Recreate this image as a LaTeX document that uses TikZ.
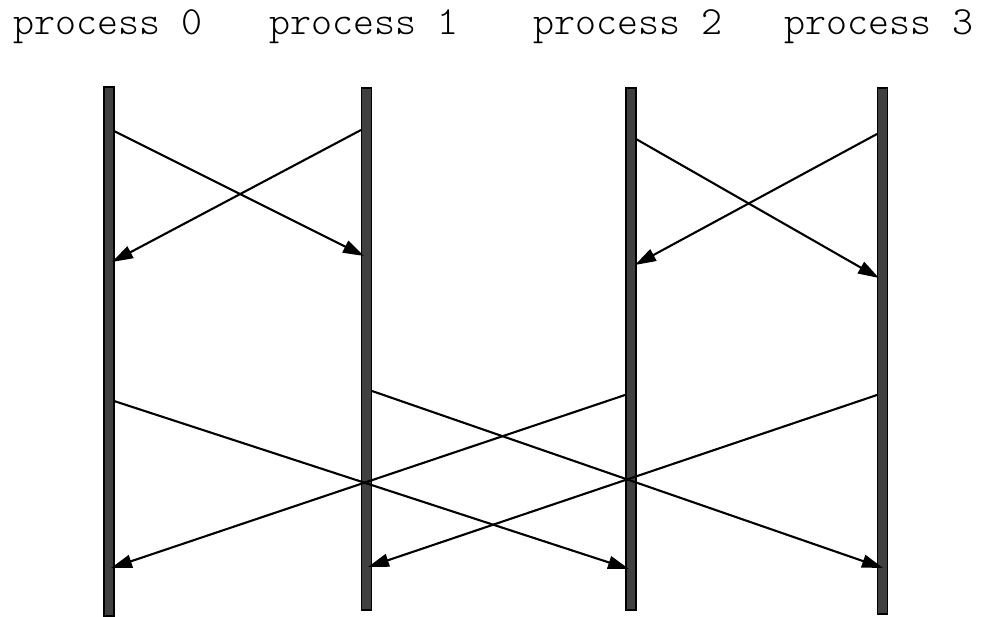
\documentclass[tikz,border=0pt]{standalone}
\usepackage{fontspec}
\newfontfamily\labelfont{Latin Modern Mono Light}
\usetikzlibrary{arrows.meta}
\definecolor{bargray}{HTML}{404040}
\tikzset{
  procbar/.style={draw=black, fill=bargray, line width=1.3pt, minimum width=10pt, inner sep=0pt},
  proclabel/.style={font=\labelfont\fontsize{40}{44}\selectfont, anchor=base, inner sep=0pt},
  msg/.style={line width=2.1pt, -{Triangle[length=21pt,width=13pt]}}
}
\begin{document}
\begin{tikzpicture}[x=1pt,y=-1pt]
  \useasboundingbox (0,0) rectangle (985,617);
  % process labels
  \node[proclabel] (l0) at (108,35) {process 0};
  \node[proclabel] (l1) at (364,35) {process 1};
  \node[proclabel] (l2) at (628,35) {process 2};
  \node[proclabel] (l3) at (879,35) {process 3};
  % process time lines
  \node[procbar, minimum height=529pt] (b0) at (109,351.5) {};
  \node[procbar, minimum height=522pt] (b1) at (366.5,349) {};
  \node[procbar, minimum height=522pt] (b2) at (631,349) {};
  \node[procbar, minimum height=526pt] (b3) at (882.5,351) {};
  % message end points
  \coordinate (s1) at (114,131);  \coordinate (t1) at (364,256);
  \coordinate (s2) at (361,130);  \coordinate (t2) at (112,262);
  \coordinate (s3) at (636,139);  \coordinate (t3) at (879,278);
  \coordinate (s4) at (877,134);  \coordinate (t4) at (635,265);
  \coordinate (s5) at (114,401);  \coordinate (t5) at (629,569);
  \coordinate (s6) at (625,395);  \coordinate (t6) at (111,568);
  \coordinate (s7) at (372,391);  \coordinate (t7) at (883,568);
  \coordinate (s8) at (877,395);  \coordinate (t8) at (368,567);
  % messages
  \foreach \i in {1,...,8} {\draw[msg] (s\i) -- (t\i);}
\end{tikzpicture}
\end{document}
